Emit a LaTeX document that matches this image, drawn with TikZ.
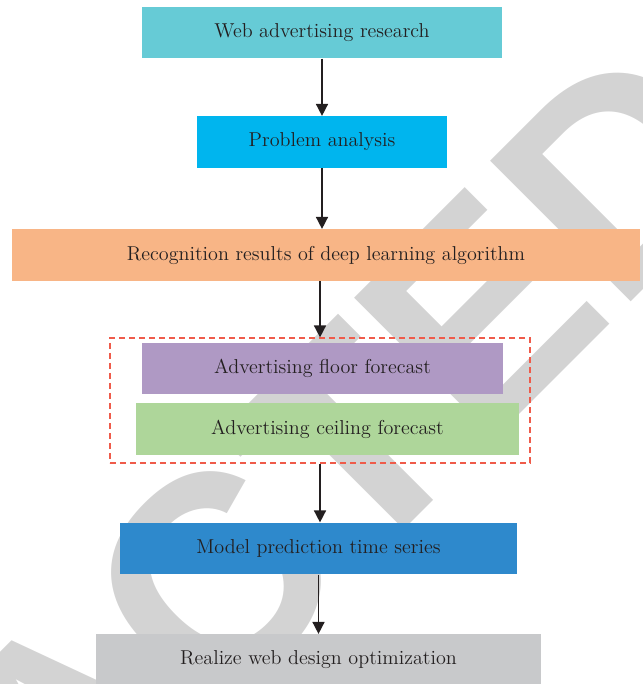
\documentclass[tikz,border=0pt]{standalone}
\usepackage{fontspec}
\usepackage{xcolor}
\definecolor{webCyan}{HTML}{66CBD6}
\definecolor{problemBlue}{HTML}{00B5EE}
\definecolor{recogOrange}{HTML}{F8B586}
\definecolor{floorPurple}{HTML}{AF99C4}
\definecolor{ceilGreen}{HTML}{AED69A}
\definecolor{modelBlue}{HTML}{2E89CC}
\definecolor{realizeGray}{HTML}{C8C9CB}
\definecolor{dashRed}{HTML}{EF5B4A}
\definecolor{markGray}{HTML}{D3D3D3}
\definecolor{inkGray}{HTML}{231F20}
\newfontfamily\markfont{Liberation Sans}
\usetikzlibrary{arrows.meta}

\begin{document}
\begin{tikzpicture}[x=0.025cm, y=-0.025cm,
    flowBox/.style={inner sep=0pt, minimum height=1.29cm, text=inkGray,
      font=\fontsize{14.3}{16}\selectfont},
    flowArrow/.style={line width=1.1pt, inkGray, -{Triangle[length=0.3cm, width=0.3cm]}}]
  \useasboundingbox (0,0) rectangle (643,684);
  % watermark behind the chart
  \begin{scope}
    \clip (0,0) rectangle (643,684);
    \node[rotate=45, inner sep=0pt, text=markGray,
      font=\markfont\bfseries\fontsize{205.6}{206}\selectfont] (mark) at (65,728) {RETRACTED};
  \end{scope}

  \node[flowBox, fill=webCyan, minimum width=8.975cm] (web) at (322,32.5) {Web advertising research};
  \node[flowBox, fill=problemBlue, minimum width=6.25cm] (problem) at (322,142) {Problem analysis};
  \node[flowBox, fill=recogOrange, minimum width=15.7cm] (recog) at (326,255) {Recognition results of deep learning algorithm};
  \node[flowBox, fill=floorPurple, minimum width=9.025cm] (floor) at (322.5,368.5) {Advertising floor forecast};
  \node[flowBox, fill=ceilGreen, minimum width=9.575cm] (ceil) at (327.5,429) {Advertising ceiling forecast};
  \node[draw=dashRed, line width=0.8pt, dash pattern=on 0.15cm off 0.1cm,
    minimum width=10.5cm, minimum height=3.125cm, inner sep=0pt] (group) at (320,400.5) {};
  \node[flowBox, fill=modelBlue, minimum width=9.925cm] (model) at (318.5,548.5) {Model prediction time series};
  \node[flowBox, fill=realizeGray, minimum width=11.125cm] (realize) at (318.5,660) {Realize web design optimization};

  \draw[flowArrow] (web) -- (problem);
  \draw[flowArrow] (problem.south) -- (problem.south |- recog.north);
  \draw[flowArrow] (group.north |- recog.south) -- (group.north);
  \draw[flowArrow] (group.south) -- (group.south |- model.north);
  \draw[flowArrow] (model) -- (realize);

\end{tikzpicture}
\end{document}
